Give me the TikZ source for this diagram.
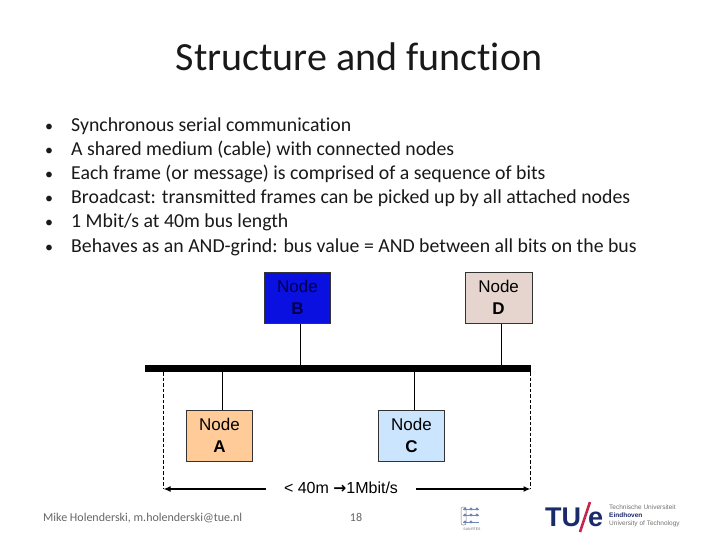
\documentclass[tikz,border=0pt]{standalone}
\usepackage{fontspec}
\setmainfont[RawFeature={-liga;-clig}]{Carlito}
\newfontfamily\arialf{Liberation Sans}
\newfontfamily\dejavuf{DejaVu Sans}
\usetikzlibrary{arrows.meta}
\definecolor{cA}{HTML}{FFCC99}
\definecolor{cB}{HTML}{0A10E0}
\definecolor{cC}{HTML}{CCE5FF}
\definecolor{cD}{HTML}{E6D5CE}
\definecolor{tueblue}{HTML}{1B2A6B}
\definecolor{tuered}{HTML}{C8254F}
\definecolor{logoblue}{HTML}{6F86B8}
\newcommand\nodelbl[1]{Node\\\textbf{#1}\rule[-2pt]{0pt}{2pt}}
\tikzset{
  x=1pt,y=-1pt,
  netbox/.style={draw=black!80,line width=0.5pt,minimum width=66.4pt,minimum height=51.4pt,inner sep=0pt,align=center,
    font=\arialf\fontsize{17}{22}\selectfont},
  stem/.style={draw=black,line width=0.6pt},
  bodyline/.style={anchor=base west,inner sep=0pt,font=\fontsize{19.8}{24}\selectfont,text=black!90},
  bul/.style={anchor=base west,inner sep=0pt,font=\fontsize{16}{24}\selectfont,text=black!90},
  foot/.style={inner sep=0pt,text=black!60,font=\fontsize{12}{14}\selectfont},
  dim/.style={draw=black,line width=1.3pt,{Latex[length=7pt,width=6pt]}-},
  dimguide/.style={draw=black,line width=0.5pt,dash pattern=on 3.5pt off 2pt},
  logodot/.style={circle,fill=logoblue,inner sep=0pt,minimum size=3.4pt},
}
\begin{document}
\begin{tikzpicture}
\useasboundingbox (0,0) rectangle (720,540);
\fill[white] (0,0) rectangle (720,540);
\node[inner sep=0pt,text=black!90,font=\fontsize{40}{44}\selectfont] (title) at (359,57) {Structure and function};
% bullets
\foreach \yy/\i in {132/1,156/2,180/3,204/4,228/5,252/6}{
  \node[bul] (bu\i) at (45,\yy) {•};
}
\node[bodyline] (li1) at (71,132) {Synchronous serial communication};
\node[bodyline] (li2) at (71,156) {A shared medium (cable) with connected nodes};
\node[bodyline] (li3) at (71,180) {Each frame (or message) is comprised of a sequence of bits};
\node[bodyline] (li4) at (71,204) {Broadcast: transmitted frames can be picked up by all attached nodes};
\node[bodyline] (li5) at (71,228) {1 Mbit/s at 40m bus length};
\node[bodyline] (li6) at (71,252) {Behaves as an AND-grind: bus value = AND between all bits on the bus};
% bus
\node[fill=black,draw=none,inner sep=0pt,minimum width=386pt,minimum height=7pt] (bus) at (338,368.5) {};
% nodes
\node[netbox,fill=cB,text=black!70!blue] (nb) at (297.5,298) {\nodelbl{B}};
\node[netbox,fill=cD] (nd) at (498.6,298) {\nodelbl{D}};
\node[netbox,fill=cA] (na) at (219.5,436) {\nodelbl{A}};
\node[netbox,fill=cC] (nc) at (411.5,436) {\nodelbl{C}};
% stems
\coordinate (sb) at (300.5,365);
\coordinate (sd) at (501.5,365);
\coordinate (sa) at (222.3,372);
\coordinate (sc) at (414.5,372);
\draw[stem] (nb.south -| sb) -- (sb);
\draw[stem] (nd.south -| sd) -- (sd);
\draw[stem] (na.north -| sa) -- (sa);
\draw[stem] (nc.north -| sc) -- (sc);
% dimension
\coordinate (gl) at (163.5,372);
\coordinate (gr) at (530.5,372);
\coordinate (al) at (163.5,489);
\coordinate (ar) at (530.5,489);
\draw[dimguide] (gl) -- (al);
\draw[dimguide] (gr) -- (ar);
\node[inner sep=0pt,minimum width=150pt,minimum height=14pt,font=\arialf\fontsize{16}{16}\selectfont] (dl) at (341,487.5) {< 40m {\dejavuf\bfseries\fontsize{15.5}{16}\selectfont →}1Mbit/s};
\draw[dim] (al) -- (dl.west |- al);
\draw[dim] (ar) -- (dl.east |- ar);
% footer
\node[foot,anchor=base west] (author) at (43,521) {Mike Holenderski, m.holenderski@tue.nl};
\node[foot,anchor=base] (pg) at (356,521) {18};
% small logo
\draw[black!50,line width=0.5pt,rounded corners=2pt] (461,507) rectangle (466,525);
\foreach \px in {465,471,477}{\foreach \py in {509,515}{\node[logodot] at (\px,\py) {};}}
\foreach \px in {465,471}{\node[logodot] at (\px,522) {};}
\foreach \py in {509,515,522}{\draw[logoblue,line width=0.5pt] (463,\py) -- (479,\py);}
\node[inner sep=0pt,text=black!60,font=\arialf\fontsize{3.5}{4}\selectfont] (lsm) at (472,529) {SAN\,RTES};
% TU/e logo
\node[anchor=base west,inner sep=0pt,text=tueblue,font=\arialf\bfseries\fontsize{27}{27}\selectfont] (tu) at (545,526.5) {TU};
\node[anchor=base west,inner sep=0pt,text=tueblue,font=\arialf\bfseries\fontsize{27}{27}\selectfont] (te) at (588,526.5) {e};
\draw[tuered,line width=2.6pt] (590,502) -- (580,532);
\node[anchor=north west,inner sep=0pt,align=left,text=black!55,font=\arialf\fontsize{6.5}{7.7}\selectfont] (tb) at (609,505) {Technische Universiteit\\{\bfseries\color{tueblue}Eindhoven}\\University of Technology};
\end{tikzpicture}
\end{document}
